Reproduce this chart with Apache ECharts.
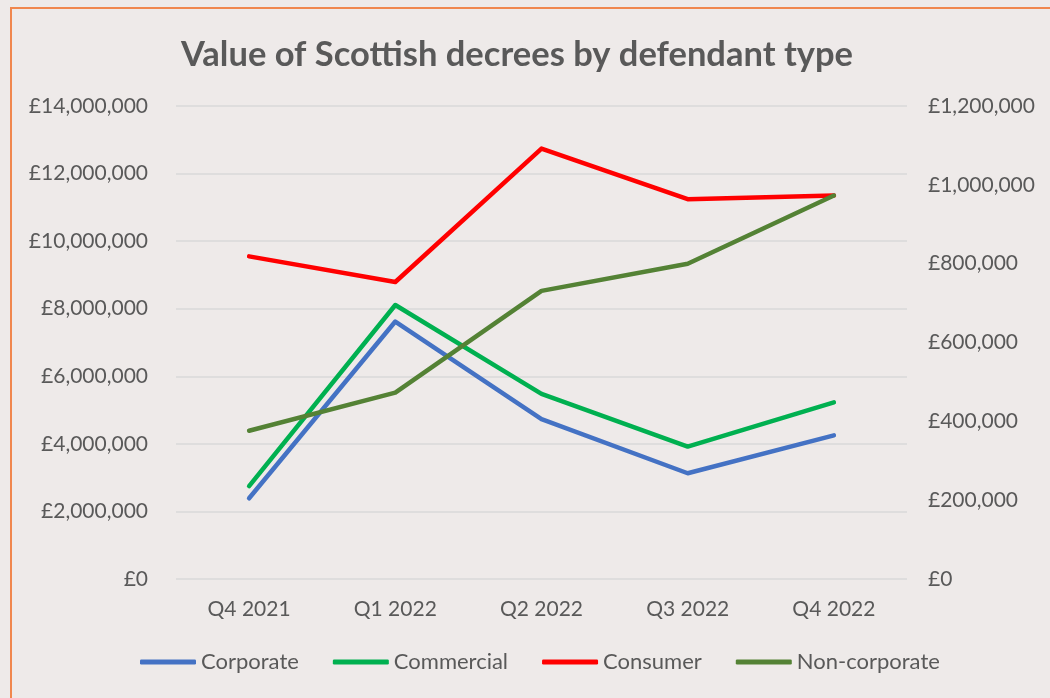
<!DOCTYPE html>
<html>
<head>
<meta charset="utf-8">
<script src="https://cdn.jsdelivr.net/npm/echarts@6/dist/echarts.min.js"></script>
<style>
  html, body { margin: 0; padding: 0; background: #EEEAE9; }
  #frame { position: absolute; left: 10px; top: 7px; width: 1100px; height: 760px;
           border-left: 2px solid #F0874E; border-top: 2px solid #F0874E; }
  #chart { position: absolute; left: 0; top: 0; width: 1050px; height: 698px; }
</style>
</head>
<body>
<div id="frame"></div>
<div id="chart"></div>
<script>
// 数据
const quarters = ["Q4 2021", "Q1 2022", "Q2 2022", "Q3 2022", "Q4 2022"];
const corporate = [2390000, 7620000, 4730000, 3130000, 4250000];
const commercial = [2750000, 8110000, 5480000, 3920000, 5230000];
const consumer = [9550000, 8790000, 12740000, 11240000, 11350000];
const nonCorporate = [376000, 473000, 731000, 800000, 973000]; // right axis

const fontFamily = "Lato, 'Open Sans', sans-serif";
const textGrey = "#595959";

function money(v) {
	return "£" + Number(v).toLocaleString("en-GB");
}

function lineSeries(name, data, color, axis) {
	return {
		name: name,
		type: "line",
		yAxisIndex: axis,
		data: data,
		symbol: "none",
		lineStyle: { color: color, width: 4.5, cap: "round", join: "round" },
		itemStyle: { color: color },
	};
}

const chart = echarts.init(document.getElementById("chart"));
const option = {
	animation: false,
	title: {
		text: "Value of Scottish decrees by defendant type",
		left: 176,
		top: 32,
		textStyle: { fontFamily: fontFamily, fontSize: 34.5, fontWeight: "bold", color: textGrey },
	},
	grid: { left: 176, right: 143, top: 106, bottom: 119 },
	legend: {
		bottom: 20,
		left: 135,
		icon: "roundRect",
		itemWidth: 56,
		itemHeight: 5,
		itemGap: 34,
		textStyle: { fontFamily: fontFamily, fontSize: 22, color: textGrey },
		data: ["Corporate", "Commercial", "Consumer", "Non-corporate"],
	},
	xAxis: {
		type: "category",
		data: quarters,
		boundaryGap: true,
		axisLine: { show: false },
		axisTick: { show: false },
		axisLabel: { fontFamily: fontFamily, fontSize: 21, color: textGrey, margin: 20 },
	},
	yAxis: [
		{
			type: "value",
			min: 0,
			max: 14000000,
			interval: 2000000,
			axisLine: { show: false },
			axisTick: { show: false },
			splitLine: { lineStyle: { color: "#D9D9D9", width: 1.5 } },
			axisLabel: { fontFamily: fontFamily, fontSize: 21, color: textGrey, margin: 28, formatter: money },
		},
		{
			type: "value",
			min: 0,
			max: 1200000,
			interval: 200000,
			axisLine: { show: false },
			axisTick: { show: false },
			splitLine: { show: false },
			axisLabel: { fontFamily: fontFamily, fontSize: 21, color: textGrey, margin: 21, formatter: money },
		},
	],
	series: [
		lineSeries("Corporate", corporate, "#4472C4", 0),
		lineSeries("Commercial", commercial, "#00B050", 0),
		lineSeries("Consumer", consumer, "#FF0000", 0),
		lineSeries("Non-corporate", nonCorporate, "#548235", 1),
	],
};
chart.setOption(option);
</script>
</body>
</html>
